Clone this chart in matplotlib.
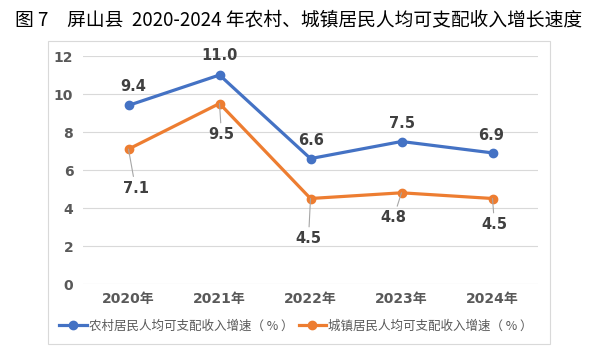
import matplotlib
matplotlib.use("Agg")
import matplotlib.pyplot as plt
from matplotlib.patches import Rectangle

years = ["2020年", "2021年", "2022年", "2023年", "2024年"]
rural = [9.4, 11.0, 6.6, 7.5, 6.9]
urban = [7.1, 9.5, 4.5, 4.8, 4.5]
rural_name = "农村居民人均可支配收入增速（ % ）"
urban_name = "城镇居民人均可支配收入增速（ % ）"
title = "图 7　屏山县  2020-2024 年农村、城镇居民人均可支配收入增长速度"

fam = ["DejaVu Sans", "Noto Sans CJK SC"]
cjk = ["Noto Sans CJK SC", "DejaVu Sans"]
plt.rcParams["font.family"] = fam

blue = "#4472C4"
orange = "#ED7D31"

fig = plt.figure(figsize=(5.9, 3.62), dpi=100)
W, H = 590, 362

# outer chart frame
fig.patches.append(Rectangle((48 / W, 1 - 344 / H), 502 / W, 303 / H,
                             transform=fig.transFigure, fill=False,
                             edgecolor="#D9D9D9", lw=0.8))

fig.text(15 / W, 1 - 20 / H, title, fontsize=13.5, fontweight="medium",
         family=cjk, va="center", ha="left", color="black")

ax = fig.add_axes([83 / W, 1 - 284 / H, 455 / W, 228 / H])
x = range(len(years))
ax.plot(x, rural, color=blue, lw=2.3, marker="o", ms=6, label=rural_name, zorder=3)
ax.plot(x, urban, color=orange, lw=2.3, marker="o", ms=6, label=urban_name, zorder=3)

ax.set_xlim(-0.5, 4.5)
ax.set_ylim(0, 12)
ax.set_yticks(range(0, 13, 2))
ax.set_xticks(list(x))
ax.set_xticklabels(years)
ax.grid(axis="y", color="#D9D9D9", lw=0.8)
ax.set_axisbelow(True)
for s in ax.spines.values():
    s.set_visible(False)
ax.tick_params(length=0, colors="#595959", labelsize=10, pad=6)
for t in ax.get_xticklabels() + ax.get_yticklabels():
    t.set_fontweight("bold")
ax.tick_params(axis="y", pad=7)

# data labels (pixel offsets)
rural_off = [(5, 19), (0, 19), (1, 18), (0, 18), (-1, 17)]
urban_off = [(7, -39), (2, -31), (-2, -40), (-8, -25), (2, -26)]
for i, v in enumerate(rural):
    dx, dy = rural_off[i]
    ax.annotate(f"{v:.1f}", (i, v), xytext=(dx, dy), textcoords="offset pixels",
                ha="center", va="center", fontsize=10.5, fontweight="bold", color="#404040")
for i, v in enumerate(urban):
    dx, dy = urban_off[i]
    ax.annotate(f"{v:.1f}", (i, v), xytext=(dx, dy), textcoords="offset pixels",
                ha="center", va="center", fontsize=10.5, fontweight="bold", color="#404040",
                arrowprops=dict(arrowstyle="-", color="#A6A6A6", lw=0.8,
                                shrinkA=1, shrinkB=0))

h, l = ax.get_legend_handles_labels()
fig.legend(h, l, loc="center", bbox_to_anchor=(296 / W, 1 - 326 / H), ncol=2,
           frameon=False, handlelength=2.2, columnspacing=0.4,
           handletextpad=0.2, labelcolor="#595959",
           prop={"family": cjk, "size": 9})

fig.savefig("out.png", dpi=100)
